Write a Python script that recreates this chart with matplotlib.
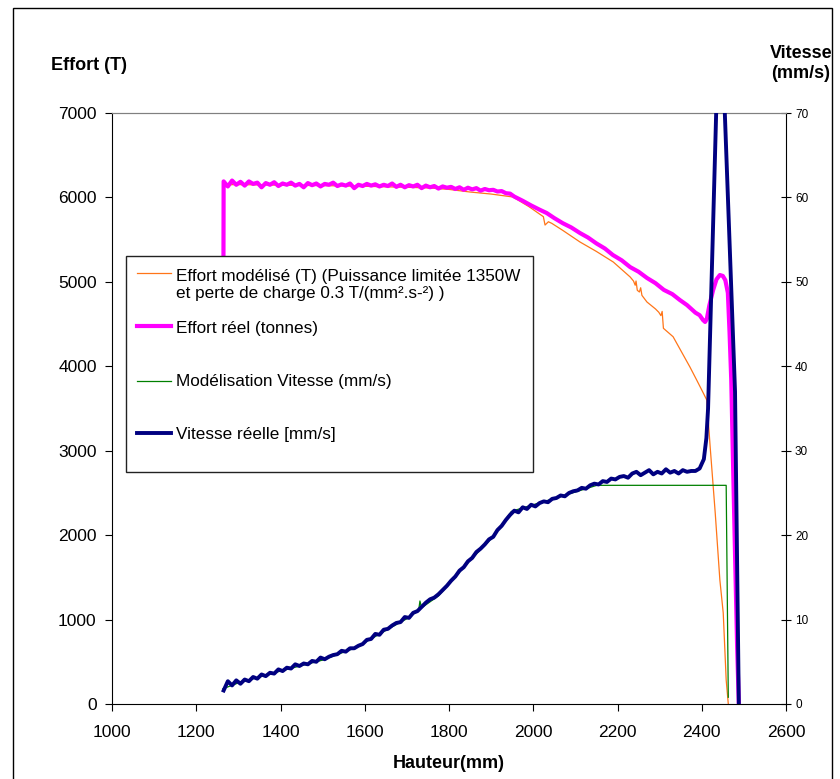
import matplotlib.pyplot as plt
from matplotlib.lines import Line2D
from matplotlib.patches import Rectangle
import numpy as np

plt.rcParams['font.family'] = ['Liberation Sans', 'DejaVu Sans']

# Effort réel (tonnes) - plateau sampled every 10 mm, then the decline and peak
reel_plateau_x = np.arange(1265, 1956, 10)
reel_plateau_y = [
    6190, 6130, 6200, 6150, 6185, 6140, 6190, 6160, 6175, 6120,
    6170, 6150, 6180, 6135, 6165, 6150, 6175, 6140, 6160, 6120,
    6170, 6145, 6165, 6130, 6160, 6150, 6175, 6135, 6155, 6140,
    6165, 6110, 6150, 6135, 6160, 6140, 6155, 6130, 6150, 6135,
    6165, 6125, 6150, 6120, 6145, 6130, 6150, 6110, 6140, 6120,
    6135, 6105, 6130, 6115, 6125, 6100, 6120, 6090, 6115, 6095,
    6110, 6080, 6100, 6085, 6090, 6070, 6075, 6050, 6045, 6010,
]
reel_tail_x = [1975, 1995, 2015, 2032, 2050, 2070, 2090, 2111, 2130, 2150,
               2170, 2189, 2210, 2230, 2250, 2270, 2290, 2310, 2330, 2348,
               2365, 2385, 2395, 2403, 2408, 2412, 2418, 2427, 2435, 2443,
               2450, 2456, 2462, 2466, 2470, 2478, 2484, 2488]
reel_tail_y = [5960, 5905, 5855, 5815, 5755, 5695, 5645, 5578, 5525, 5455,
               5395, 5318, 5255, 5175, 5120, 5046, 4985, 4905, 4855, 4785,
               4725, 4635, 4605, 4548, 4525, 4560, 4720, 4903, 5030, 5081,
               5070, 5020, 4870, 4400, 3840, 2000, 675, 0]
reel_start = (1264, 4000)

# Effort modélisé (T)
modele_x = [1263, 1300, 1400, 1500, 1600, 1700, 1755, 1800, 1850, 1900,
            1952, 1990, 2024, 2028, 2036, 2044, 2070, 2111, 2150, 2190,
            2230, 2238, 2242, 2244, 2247, 2252, 2255, 2258, 2270, 2290,
            2298, 2303, 2306, 2309, 2332, 2372, 2388, 2404, 2412, 2420,
            2432, 2443, 2451, 2458, 2463]
modele_y = [6150, 6152, 6145, 6140, 6132, 6120, 6112, 6095, 6064, 6040,
            6005, 5890, 5772, 5673, 5712, 5693, 5610, 5472, 5360, 5235,
            5058, 5010, 4960, 5010, 4900, 4880, 4930, 4840, 4761, 4680,
            4640, 4600, 4650, 4450, 4350, 3991, 3837, 3680, 3600, 3044,
            2262, 1469, 1078, 284, 0]

# Modélisation Vitesse (mm/s)
vit_modele_x = [1263, 1300, 1400, 1500, 1580, 1660, 1700, 1728, 1731, 1735,
                1775, 1800, 1850, 1905, 1948, 1960, 2000, 2080, 2151, 2458, 2463]
vit_modele_y = [1.8, 2.5, 3.9, 5.2, 6.7, 9.0, 10.1, 11.1, 12.2, 11.4,
                12.8, 14.2, 17.0, 19.8, 22.8, 23.0, 23.6, 24.8, 25.9, 25.9, 0.8]

# Vitesse réelle [mm/s] - sampled every 10 mm, then the final spike
vit_reel_x = np.arange(1265, 2396, 10)
vit_reel_y = [
    1.6, 2.7, 2.2, 2.8, 2.4, 2.9, 2.7, 3.2, 3.0, 3.5,
    3.3, 3.7, 3.6, 4.1, 3.9, 4.3, 4.2, 4.7, 4.5, 4.8,
    4.7, 5.1, 5.0, 5.5, 5.3, 5.6, 5.8, 5.9, 6.3, 6.2,
    6.6, 6.6, 6.9, 7.1, 7.6, 7.7, 8.3, 8.2, 8.8, 8.9,
    9.3, 9.6, 9.7, 10.3, 10.2, 10.8, 11.0, 11.5, 12.0, 12.4,
    12.6, 13.0, 13.5, 14.0, 14.6, 15.1, 15.8, 16.2, 16.9, 17.3,
    18.0, 18.4, 18.9, 19.5, 19.8, 20.6, 21.1, 21.8, 22.4, 22.9,
    22.7, 23.3, 23.1, 23.6, 23.4, 23.8, 24.0, 23.9, 24.3, 24.4,
    24.7, 24.6, 25.0, 25.2, 25.3, 25.6, 25.5, 25.9, 26.1, 26.0,
    26.4, 26.3, 26.7, 26.6, 26.9, 27.0, 26.8, 27.3, 27.5, 27.1,
    27.4, 27.7, 27.2, 27.5, 27.3, 27.8, 27.4, 27.6, 27.3, 27.7,
    27.5, 27.6, 27.6, 27.9,
]
vit_pic_x = [2405, 2411, 2415, 2443, 2479, 2488]
vit_pic_y = [29.0, 31.5, 35.0, 86.0, 37.0, 0.0]

legend_labels = [
    'Effort modélisé (T) (Puissance limitée 1350W\net perte de charge 0.3 T/(mm².s-²) )',
    'Effort réel (tonnes)',
    'Modélisation Vitesse (mm/s)',
    'Vitesse réelle [mm/s]',
]

W, H = 840, 779
ORANGE = '#ff7518'
MAGENTA = '#ff00ff'
GREEN = '#008000'
NAVY = '#000080'


def fx(px):
    return px / W


def fy(py):
    return 1 - py / H


def main():
    fig = plt.figure(figsize=(W / 100, H / 100), dpi=100)
    ax = fig.add_axes([fx(112), fy(704), fx(674), 591 / H])
    ax2 = ax.twinx()

    # force curves (left axis)
    ax.plot(modele_x, modele_y, color=ORANGE, lw=0.9, zorder=2)
    reel_x = [reel_start[0]] + list(reel_plateau_x) + reel_tail_x
    reel_y = [reel_start[1]] + reel_plateau_y + reel_tail_y
    ax.plot(reel_x, reel_y, color=MAGENTA, lw=3.0, zorder=3,
            solid_joinstyle='round')

    # speed curves (right axis)
    ax2.plot(vit_modele_x, vit_modele_y, color=GREEN, lw=0.9, zorder=2)
    vx = list(vit_reel_x) + vit_pic_x
    vy = vit_reel_y + vit_pic_y
    ax2.plot(vx, vy, color=NAVY, lw=2.8, zorder=3, solid_joinstyle='round')

    ax.set_xlim(1000, 2600)
    ax.set_ylim(0, 7000)
    ax2.set_ylim(0, 70)
    ax.set_xticks(np.arange(1000, 2601, 200))
    ax.set_yticks(np.arange(0, 7001, 1000))
    ax2.set_yticks(np.arange(0, 71, 10))

    ax.tick_params(direction='out', length=5, width=0.8, labelsize=12.5, pad=6)
    ax.tick_params(axis='x', pad=10)
    ax2.tick_params(direction='inout', length=7, width=0.8, labelsize=8.5, pad=3)

    for sp in ['left', 'bottom']:
        ax.spines[sp].set_color('black')
    ax.spines['top'].set_color('#808080')
    ax.spines['right'].set_visible(False)
    ax2.spines['left'].set_visible(False)
    ax2.spines['bottom'].set_visible(False)
    ax2.spines['top'].set_color('#808080')
    ax2.spines['right'].set_color('black')

    # axis titles
    fig.text(fx(51), fy(66), 'Effort (T)', fontsize=13, fontweight='bold',
             ha='left', va='center')
    fig.text(fx(801), fy(53), 'Vitesse', fontsize=13, fontweight='bold',
             ha='center', va='center')
    fig.text(fx(801), fy(74), '(mm/s)', fontsize=13, fontweight='bold',
             ha='center', va='center')
    fig.text(fx(449), fy(763), 'Hauteur(mm)', fontsize=13, fontweight='bold',
             ha='center', va='center')

    # hand placed legend box (Excel spacing)
    fig.add_artist(Rectangle((fx(126), fy(472)), fx(533 - 126), (472 - 256) / H,
                             facecolor='white', edgecolor='#222222', lw=1,
                             transform=fig.transFigure, zorder=10))
    styles = [(ORANGE, 0.9, 273), (MAGENTA, 3.0, 326), (GREEN, 0.9, 381), (NAVY, 2.8, 433)]
    text_y = [285, 328, 382, 434]
    for (col, lw, ly), label, ty in zip(styles, legend_labels, text_y):
        fig.add_artist(Line2D([fx(137), fx(171)], [fy(ly), fy(ly)], color=col, lw=lw,
                              transform=fig.transFigure, zorder=11))
        fig.text(fx(176), fy(ty), label, fontsize=12.3, ha='left', va='center',
                 linespacing=1.2, zorder=12)

    # outer chart border
    fig.add_artist(Rectangle((fx(13), fy(800)), fx(832 - 13), (800 - 8) / H,
                             facecolor='none', edgecolor='black', lw=1,
                             transform=fig.transFigure, zorder=20))

    plt.savefig('out.png', dpi=100)


if __name__ == '__main__':
    main()
